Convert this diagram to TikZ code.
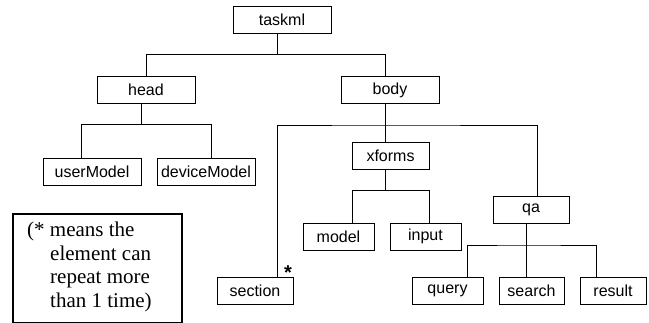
\documentclass[tikz,border=0pt]{standalone}
\usepackage{fontspec}
\setmainfont{Liberation Serif}
\setsansfont{Liberation Sans}
\usepackage{tikz}
\usetikzlibrary{positioning}

\begin{document}
\begin{tikzpicture}[
    x=1pt, y=-1pt,
    elem/.style={draw, line width=0.8pt, minimum height=27pt, inner sep=0pt,
      font=\sffamily\fontsize{16}{16}\selectfont},
    link/.style={line width=0.8pt},
    notebox/.style={draw, line width=1.8pt, anchor=north west, minimum width=169pt,
      minimum height=109pt, inner sep=0pt},
    notetext/.style={anchor=north west, inner sep=0pt, align=left,
      font=\rmfamily\fontsize{21}{23.5}\selectfont}
  ]
    \useasboundingbox (0,0) rectangle (649,323);

    \node[elem, minimum width=98pt] (taskml) at (282,19.5) {taskml};
    \node[elem, minimum width=98pt] (head) at (146,90) {head};
    \node[elem, minimum width=98pt] (body) at (390,90) {body};
    \node[elem, minimum width=98pt] (usermodel) at (92,171.5) {userModel};
    \node[elem, minimum width=98pt] (devicemodel) at (206,171.5) {deviceModel};
    \node[elem, minimum width=77pt] (xforms) at (390.5,155.5) {xforms};
    \node[elem, minimum width=71pt] (model) at (338.5,236.5) {model};
    \node[elem, minimum width=71pt] (input) at (425.5,236.5) {input};
    \node[elem, minimum width=76pt] (qa) at (531,209.5) {qa};
    \node[elem, minimum width=76pt] (section) at (255,291) {section};
    \node[elem, minimum width=71pt] (query) at (447.5,291) {query};
    \node[elem, minimum width=65pt] (search) at (531.5,291) {search};
    \node[elem, minimum width=66pt] (result) at (613,291) {result};
    \node[font=\sffamily\bfseries\fontsize{20}{20}\selectfont, inner sep=0pt] (star) at (288,273) {*};

    \node[notebox] (note) at (12,213) {};
    \node[notetext] (notetxt) at (27,222) {(* means the\\
      \hspace*{23pt}element can\\
      \hspace*{23pt}repeat more\\
      \hspace*{23pt}than 1 time)};

    \draw[link] ([xshift=-5pt]taskml.south) -- ++(0,21) coordinate (rootbus);
    \draw[link] (head.north) |- (rootbus) -| ([xshift=-5pt]body.north);

    \draw[link] ([xshift=-5pt]head.south) -- ++(0,21) coordinate (headbus);
    \draw[link] ([xshift=-11pt]usermodel.north) |- (headbus) -| ([xshift=5pt]devicemodel.north);

    \draw[link] ([xshift=-5pt]body.south) -- ([xshift=-5.5pt]xforms.north);
    \coordinate (bodybus) at ([xshift=-5pt]body.south |- 0,125);
    \draw[link] ([xshift=22pt]section.north) |- (bodybus) -| ([xshift=6pt]qa.north);

    \draw[link] ([xshift=-5.5pt]xforms.south) -- ++(0,21) coordinate (xformsbus);
    \draw[link] ([xshift=13.5pt]model.north) |- (xformsbus) -| ([xshift=3.5pt]input.north);

    \draw[link] ([xshift=-5pt]qa.south) -- ([xshift=-5.5pt]search.north);
    \coordinate (qabus) at ([xshift=-5pt]qa.south |- 0,245);
    \draw[link] ([xshift=19.5pt]query.north) |- (qabus) -| ([xshift=-17pt]result.north);
  \end{tikzpicture}
\end{document}
